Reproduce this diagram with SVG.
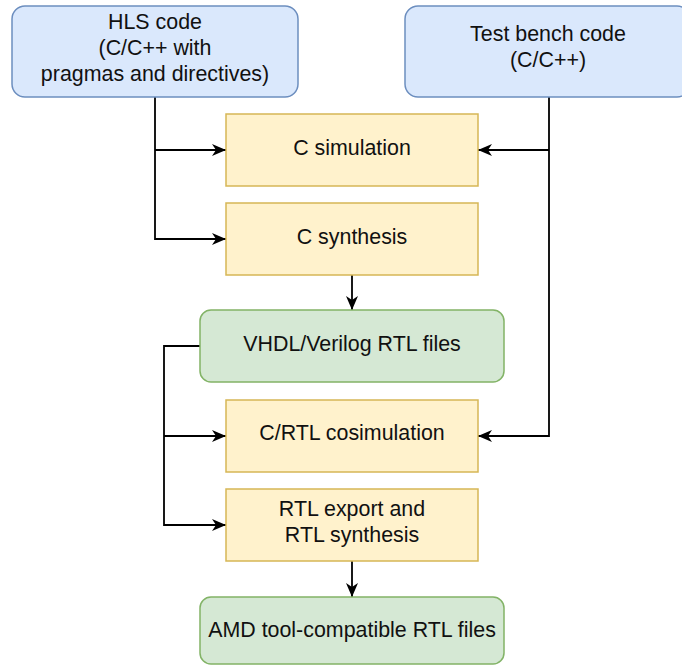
<svg xmlns="http://www.w3.org/2000/svg" width="682" height="666" viewBox="0 0 682 666">
<style>
.blue{fill:#dae8fc;stroke:#6c8ebf;stroke-width:1.5}
.yel{fill:#fff2cc;stroke:#d6b656;stroke-width:1.5}
.grn{fill:#d5e8d4;stroke:#82b366;stroke-width:1.5}
text{font-family:"Liberation Sans",Arial,Helvetica,sans-serif;font-size:21.4px;fill:#111;text-anchor:middle}
.edge{fill:none;stroke:#000;stroke-width:1.8}
</style>
<defs>
<marker id="arr" viewBox="0 0 14 12" refX="14" refY="6" markerWidth="14" markerHeight="12" markerUnits="userSpaceOnUse" orient="auto">
<path d="M0,0 L14,6 L0,12 L4,6 Z" fill="#000"/>
</marker>
</defs>
<g id="connectors">
<path class="edge" d="M155,97 V239 H226" marker-end="url(#arr)"/>
<path class="edge" d="M155,150 H226" marker-end="url(#arr)"/>
<path class="edge" d="M549,97 V436 H478" marker-end="url(#arr)"/>
<path class="edge" d="M549,150 H478" marker-end="url(#arr)"/>
<path class="edge" d="M352,275 V310" marker-end="url(#arr)"/>
<path class="edge" d="M200,346 H164 V525 H226" marker-end="url(#arr)"/>
<path class="edge" d="M164,436 H226" marker-end="url(#arr)"/>
<path class="edge" d="M352,561 V597" marker-end="url(#arr)"/>
</g>
<g id="hls">
<rect class="blue" x="12" y="6" width="286" height="91" rx="13"/>
<text x="155" y="29">HLS code</text>
<text x="155" y="55">(C/C++ with</text>
<text x="155" y="81">pragmas and directives)</text>
</g>
<g id="testbench">
<rect class="blue" x="405" y="6" width="285" height="91" rx="13"/>
<text x="548" y="41">Test bench code</text>
<text x="548" y="67">(C/C++)</text>
</g>
<g id="csim">
<rect class="yel" x="226" y="114" width="252" height="72"/>
<text x="352" y="155">C simulation</text>
</g>
<g id="csynth">
<rect class="yel" x="226" y="203" width="252" height="72"/>
<text x="352" y="244">C synthesis</text>
</g>
<g id="rtlfiles">
<rect class="grn" x="200" y="310" width="304" height="72" rx="11"/>
<text x="352" y="351">VHDL/Verilog RTL files</text>
</g>
<g id="cosim">
<rect class="yel" x="226" y="400" width="252" height="72"/>
<text x="352" y="440">C/RTL cosimulation</text>
</g>
<g id="export">
<rect class="yel" x="226" y="489" width="252" height="72"/>
<text x="352" y="516">RTL export and</text>
<text x="352" y="542">RTL synthesis</text>
</g>
<g id="amd">
<rect class="grn" x="200" y="597" width="304" height="67" rx="11"/>
<text x="352" y="637">AMD tool-compatible RTL files</text>
</g>
</svg>
